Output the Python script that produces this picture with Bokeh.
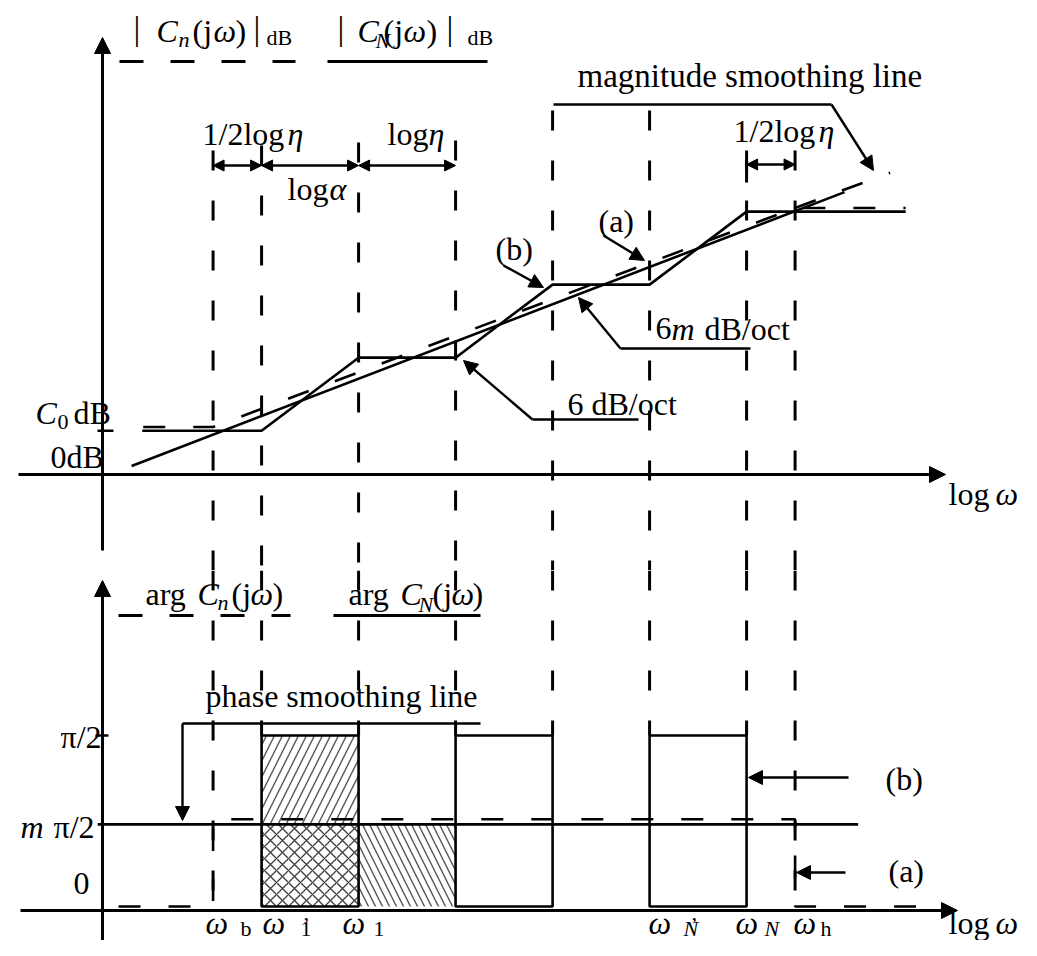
from bokeh.plotting import figure
from bokeh.layouts import column
from bokeh.models import Range1d, Arrow, NormalHead
from bokeh.core.properties import value
from bokeh.embed import file_html
from bokeh.resources import INLINE

FONT = value("Liberation Serif")

# ---------------- data ----------------
# corner frequencies on the log-omega axis (log units)
corner_names = ["ω_b", "ω'_1", "ω_1", "ω'_2", "ω_2", "ω'_N", "ω_N", "ω_h"]
corner_logw = [1.14, 1.64, 2.64, 3.64, 4.64, 5.64, 6.64, 7.14]

# |C_N(jw)| dB  (solid staircase, curve (b))
magN_logw = [0.41, 1.64, 2.64, 3.64, 4.64, 5.64, 6.64, 8.28]
magN_db = [3.6, 3.6, 9.6, 9.6, 15.6, 15.6, 21.6, 21.6]
# |C_n(jw)| dB  (dashed, curve (a))
magn_logw = [0.42, 1.14, 7.14, 8.28]
magn_db = [3.9, 3.9, 21.9, 21.9]
# magnitude smoothing lines
smoothN_logw = [0.30, 7.65]
smoothN_db = [0.7, 23.2]
smoothn_logw = [7.14, 8.12]
smoothn_db = [21.9, 24.8]

# arg C_N(jw) in units of pi/2 (solid, curve (b))
phaseN_logw = [0.0, 1.64, 1.64, 2.64, 2.64, 3.64, 3.64, 4.64, 4.64, 5.64, 5.64, 6.64, 6.64, 8.6]
phaseN = [0, 0, 1, 1, 0, 0, 1, 1, 0, 0, 1, 1, 0, 0]
# arg C_n(jw) in units of pi/2 (dashed, curve (a))
phasen_logw = [0.165, 1.14, 1.14, 7.14, 7.14, 8.45]
phasen = [0.0, 0.0, 0.51, 0.51, 0.0, 0.0]
# phase smoothing line  m*pi/2
m_level = 0.48
phase_smooth_logw = [-0.05, 7.79]

# ---------------- layout helpers (annotation placement only) ----------------
def TX(px):
    return (px - 102) / 97.0

def TYt(py):
    return (474 - py) / 12.17

def TYb(py):
    return (906 - py) / 171.0

W = 1021
SPLIT = 570
H = 940
xr = Range1d(TX(0), TX(W))

def make_fig(h, y0, y1):
    f = figure(width=W, height=h, x_range=xr, y_range=Range1d(y0, y1),
               output_backend="svg", toolbar_location=None,
               x_axis_type=None, y_axis_type=None, min_border=0)
    f.min_border_left = f.min_border_right = f.min_border_top = f.min_border_bottom = 0
    f.outline_line_color = None
    f.background_fill_color = "white"
    f.border_fill_color = "white"
    return f

top = make_fig(SPLIT, TYt(SPLIT), TYt(0))
bot = make_fig(H - SPLIT, TYb(H), TYb(SPLIT))

LW = 2.6

def txt(f, ymap, px, py, s, size=32, style="normal"):
    # py is the wanted baseline; the renderer sets glyphs ~0.3em lower
    f.text(x=[TX(px)], y=[ymap(py - 0.3 * size)], text=[s], text_font=FONT,
           text_font_size=f"{size}px", text_font_style=style,
           text_align="left", text_baseline="alphabetic", text_color="black")

def arrow(f, x0, y0, x1, y1, size=14, both=False, lw=2.4):
    f.add_layout(Arrow(end=NormalHead(size=size, fill_color="black", line_color="black", line_width=1),
                       start=NormalHead(size=size, fill_color="black", line_color="black", line_width=1) if both else None,
                       x_start=x0, y_start=y0, x_end=x1, y_end=y1,
                       line_color="black", line_width=lw))

# ---------------- vertical dashed corner lines ----------------
grid_top_start = [150, 145, 142, 140, 110, 110, 150, 150]
grid_bot_end = [0.02, 1.0, 1.0, 1.0, 1.0, 1.0, 1.0, 0.094]
for xc, ys, ye in zip(corner_logw, grid_top_start, grid_bot_end):
    top.line([xc, xc], [TYt(ys), TYt(SPLIT)], line_color="black", line_width=3, line_dash="20 30")
    bot.line([xc, xc], [TYb(SPLIT), ye], line_color="black", line_width=3, line_dash="20 30")

# ---------------- TOP: magnitude ----------------
# axes
arrow(top, 0, TYt(550), 0, TYt(37), size=16, lw=3)
arrow(top, TX(18), 0, TX(945), 0, size=16, lw=3)
top.line([TX(97), TX(113)], [magN_db[0], magN_db[0]], line_color="black", line_width=LW)

# curves
top.line(magN_logw, magN_db, line_color="black", line_width=LW)
top.line(smoothN_logw, smoothN_db, line_color="black", line_width=LW)
top.line(magn_logw, magn_db, line_color="black", line_width=LW, line_dash="22 28")
top.line(smoothn_logw, smoothn_db, line_color="black", line_width=LW, line_dash="22 28")

# legend
top.line([TX(119), TX(295)], [TYt(61)] * 2, line_color="black", line_width=3, line_dash="24 27")
top.line([TX(327), TX(487)], [TYt(61)] * 2, line_color="black", line_width=3)
for px, py, s, sz, st in [
    (133, 38, "|", 34, "normal"), (156, 40, "C", 32, "italic"), (178, 46, "n", 22, "italic"),
    (192, 40, "(j", 32, "normal"), (213, 40, "ω", 32, "italic"), (235, 40, ")", 32, "normal"),
    (253, 38, "|", 34, "normal"), (266, 44, "dB", 22, "normal"),
    (337, 38, "|", 34, "normal"), (357, 40, "C", 32, "italic"), (375, 47, "N", 22, "italic"),
    (383, 40, "(j", 32, "normal"), (403, 40, "ω", 32, "italic"), (426, 40, ")", 32, "normal"),
    (446, 38, "|", 34, "normal"), (467, 44, "dB", 22, "normal"),
]:
    txt(top, TYt, px, py, s, sz, st)

# dimension arrows
yd = TYt(165)
arrow(top, corner_logw[0], yd, corner_logw[1], yd, size=11, both=True)
arrow(top, corner_logw[1], yd, corner_logw[2], yd, size=11, both=True)
arrow(top, corner_logw[2], yd, corner_logw[3], yd, size=11, both=True)
arrow(top, corner_logw[6], TYt(164), corner_logw[7], TYt(164), size=11, both=True)
top.line([corner_logw[6]] * 2, [TYt(160), TYt(182)], line_color="black", line_width=3)

for px, py, s, sz, st in [
    (202, 143, "1/2log", 32, "normal"), (287, 143, "η", 32, "italic"),
    (287, 198, "log", 32, "normal"), (329, 198, "α", 32, "italic"),
    (387, 143, "log", 32, "normal"), (428, 143, "η", 32, "italic"),
    (733, 140, "1/2log", 32, "normal"), (818, 140, "η", 32, "italic"),
    (577, 85, "magnitude smoothing line", 33, "normal"),
    (495, 258, "(b)", 32, "normal"), (598, 230, "(a)", 32, "normal"),
    (655, 338, "6", 32, "normal"), (671, 338, "m", 32, "italic"), (704, 338, "dB/oct", 32, "normal"),
    (567, 413, "6 dB/oct", 32, "normal"),
    (35, 422, "C", 32, "italic"), (57, 428, "0", 22, "normal"), (73, 422, "dB", 32, "normal"),
    (50, 466, "0dB", 32, "normal"),
    (948, 503, "log", 32, "normal"), (995, 503, "ω", 32, "italic"),
]:
    txt(top, TYt, px, py, s, sz, st)

# leaders
top.line([TX(553), TX(831)], [TYt(104)] * 2, line_color="black", line_width=LW)
arrow(top, TX(831), TYt(104), TX(873), TYt(170), size=14)
arrow(top, TX(503), TYt(265), TX(543), TYt(287), size=14)
arrow(top, TX(603), TYt(235), TX(644), TYt(260), size=14)
top.line([TX(620), TX(750)], [TYt(348)] * 2, line_color="black", line_width=LW)
arrow(top, TX(620), TYt(348), TX(578), TYt(297), size=14)
top.line([TX(532), TX(638)], [TYt(419)] * 2, line_color="black", line_width=LW)
arrow(top, TX(532), TYt(419), TX(463), TYt(360), size=14)

# ---------------- BOTTOM: phase ----------------
# hatched areas
bot.quad(left=[corner_logw[1]], right=[corner_logw[2]], bottom=[m_level], top=[1.0],
         fill_alpha=0, line_color=None, hatch_pattern="/", hatch_scale=16,
         hatch_weight=1.4, hatch_color="#555555")
bot.quad(left=[corner_logw[1]], right=[corner_logw[2]], bottom=[0.0], top=[m_level],
         fill_alpha=0, line_color=None, hatch_pattern="x", hatch_scale=12,
         hatch_weight=1.4, hatch_color="#444444")
bot.quad(left=[corner_logw[2]], right=[corner_logw[3]], bottom=[0.0], top=[m_level],
         fill_alpha=0, line_color=None, hatch_pattern="\\", hatch_scale=14,
         hatch_weight=1.4, hatch_color="#555555")

# axes (drawn just below the zero level so that curves at 0 stay visible)
arrow(bot, 0, TYb(H), 0, TYb(580), size=16, lw=3)
arrow(bot, TX(20), TYb(910), TX(957), TYb(910), size=16, lw=3)
bot.line([TX(95), TX(108)], [1.0, 1.0], line_color="black", line_width=LW)

# curve (b): pulses of arg C_N between its rising and falling edges
rise = [phaseN_logw[i] for i in range(1, len(phaseN)) if phaseN[i] > phaseN[i - 1]]
fall = [phaseN_logw[i] for i in range(1, len(phaseN)) if phaseN[i] < phaseN[i - 1]]
bot.quad(left=rise, right=fall, bottom=[min(phaseN)] * len(rise), top=[max(phaseN)] * len(rise),
         fill_alpha=0, line_color="black", line_width=LW)
# curve (a)
bot.line(phasen_logw, phasen, line_color="black", line_width=LW, line_dash="22 28")
bot.line(phase_smooth_logw, [m_level, m_level], line_color="black", line_width=LW)

# legend
bot.line([TX(118), TX(290)], [TYb(615)] * 2, line_color="black", line_width=3, line_dash="24 27")
bot.line([TX(333), TX(480)], [TYb(615)] * 2, line_color="black", line_width=3)

for px, py, s, sz, st in [
    (145, 603, "arg", 32, "normal"), (197, 603, "C", 32, "italic"), (217, 609, "n", 22, "italic"),
    (231, 603, "(j", 32, "normal"), (250, 603, "ω", 32, "italic"), (272, 603, ")", 32, "normal"),
    (348, 603, "arg", 32, "normal"), (400, 603, "C", 32, "italic"), (418, 611, "N", 22, "italic"),
    (432, 603, "(j", 32, "normal"), (451, 603, "ω", 32, "italic"), (472, 603, ")", 32, "normal"),
    (205, 705, "phase smoothing line", 32, "normal"),
    (60, 746, "π/2", 32, "normal"),
    (20, 836, "m", 32, "italic"), (53, 836, "π/2", 32, "normal"),
    (73, 893, "0", 32, "normal"),
    (885, 788, "(b)", 32, "normal"), (888, 880, "(a)", 32, "normal"),
    (205, 932, "ω", 32, "italic"), (240, 935, "b", 22, "normal"),
    (262, 932, "ω", 32, "italic"), (300, 935, "1", 22, "normal"), (302, 931, "’", 22, "normal"),
    (342, 932, "ω", 32, "italic"), (373, 935, "1", 22, "normal"),
    (648, 932, "ω", 32, "italic"), (683, 935, "N", 22, "italic"), (690, 931, "’", 22, "normal"),
    (735, 932, "ω", 32, "italic"), (764, 935, "N", 22, "italic"),
    (793, 932, "ω", 32, "italic"), (820, 935, "h", 22, "normal"),
    (948, 932, "log", 32, "normal"), (995, 932, "ω", 32, "italic"),
]:
    txt(bot, TYb, px, py, s, sz, st)

# leaders
bot.line([TX(182), TX(480)], [TYb(723)] * 2, line_color="black", line_width=LW)
arrow(bot, TX(182), TYb(723), TX(182), TYb(820), size=14)
arrow(bot, TX(848), TYb(777), TX(748), TYb(777), size=14)
arrow(bot, TX(845), TYb(872), TX(796), TYb(872), size=14)

layout = column(top, bot, spacing=0)
open("out.html", "w").write(file_html(layout, INLINE))
